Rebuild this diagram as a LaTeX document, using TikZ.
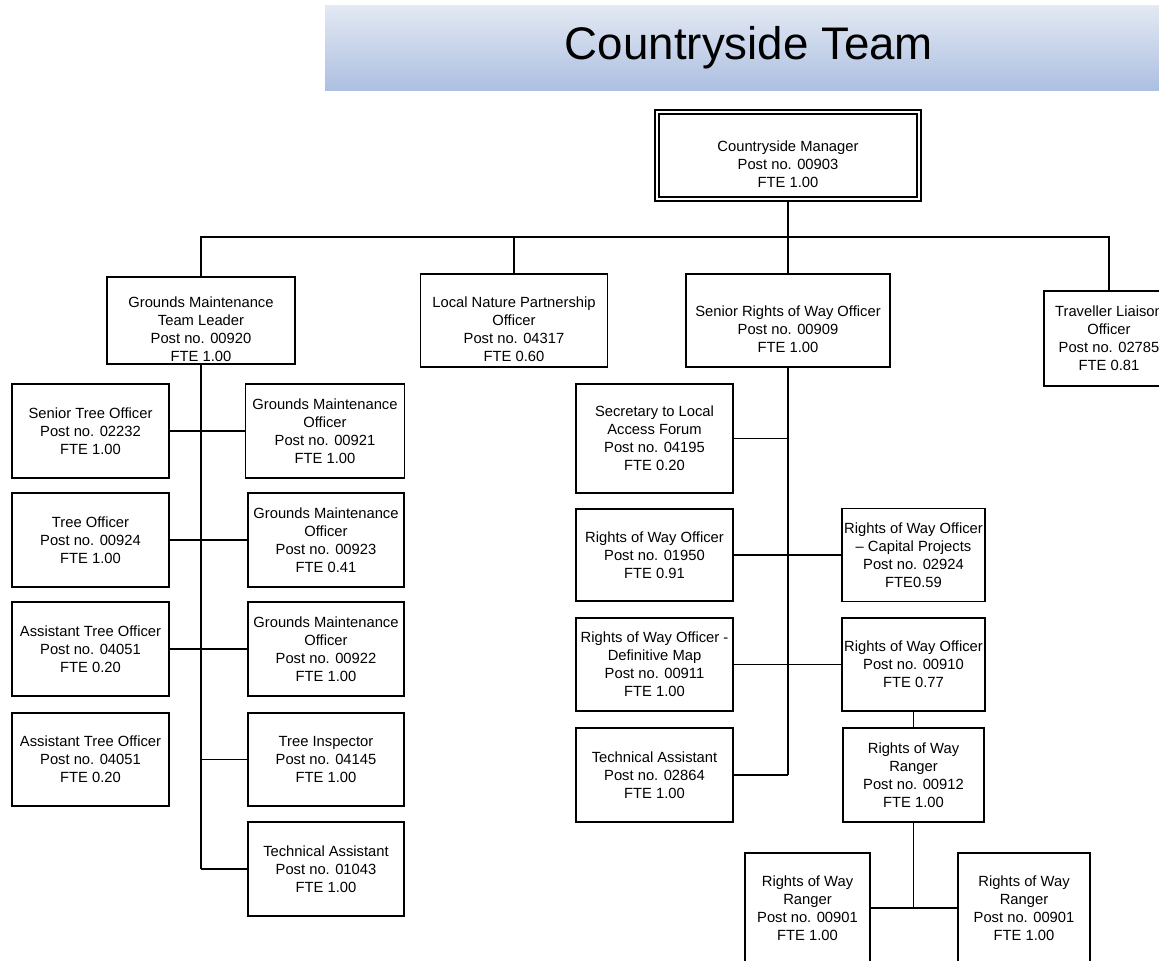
\documentclass[tikz,border=0pt]{standalone}
\usepackage{fontspec}
\setmainfont{Liberation Sans}
\definecolor{titletop}{RGB}{228,233,243}
\definecolor{titlebot}{RGB}{171,191,225}

\begin{document}
\begin{tikzpicture}
	[x=0.02cm, y=-0.02cm,
	postbox/.style={draw, line width=0.85pt, align=center, inner sep=0pt,
		minimum width=3.14cm, minimum height=1.88cm, font=\fontsize{8.4}{10.2}\selectfont},
	lowtxt/.style={align=center, yshift=-1.8mm, font=\fontsize{8.4}{10.2}\selectfont},
	link/.style={line width=0.75pt}]
	\fill[white] (0,0) rectangle (1159,960);
	\useasboundingbox (0,0) rectangle (1159,960);
	\clip (0,0) rectangle (1159,960);

	% heading
	\node[minimum width=16.96cm, minimum height=1.72cm, top color=titletop, bottom color=titlebot,
		font=\fontsize{26}{30}\selectfont] (title) at (749,48) {Countryside Team};

	% top of the tree
	\node[postbox, double, double distance=1.6pt, line width=0.7pt, minimum width=5.24cm, minimum height=1.74cm,
		label={[lowtxt]center:{Countryside Manager\\Post no. 00903\\FTE 1.00}}] (csm) at (788,155.5) {};
	\coordinate (bus) at (788,237);
	\node[postbox, minimum width=3.76cm, minimum height=1.74cm,
		label={[lowtxt]center:{Grounds Maintenance\\Team Leader\\Post no. 00920\\FTE 1.00}}] (gmtl) at (201,320.5) {};
	\node[postbox, minimum width=3.74cm, minimum height=1.86cm,
		label={[lowtxt]center:{Local Nature Partnership\\Officer\\Post no. 04317\\FTE 0.60}}] (lnp) at (514,320.5) {};
	\node[postbox, minimum width=4.08cm, minimum height=1.86cm,
		label={[lowtxt]center:{Senior Rights of Way Officer\\Post no. 00909\\FTE 1.00}}] (srow) at (788,320.5) {};
	\node[postbox, minimum width=2.6cm, minimum height=1.9cm] (tlo) at (1109,338.5)
		{Traveller Liaison\\Officer\\Post no. 02785\\FTE 0.81};

	% grounds maintenance
	\node[postbox] (sto) at (90.5,431) {Senior Tree Officer\\Post no. 02232\\FTE 1.00};
	\node[postbox, minimum width=3.18cm] (gmo1) at (325,431) {Grounds Maintenance\\Officer\\Post no. 00921\\FTE 1.00};
	\node[postbox] (tro) at (90.5,540) {Tree Officer\\Post no. 00924\\FTE 1.00};
	\node[postbox, minimum width=3.12cm] (gmo2) at (326,540) {Grounds Maintenance\\Officer\\Post no. 00923\\FTE 0.41};
	\node[postbox] (ato1) at (90.5,649) {Assistant Tree Officer\\Post no. 04051\\FTE 0.20};
	\node[postbox, minimum width=3.12cm] (gmo3) at (326,649) {Grounds Maintenance\\Officer\\Post no. 00922\\FTE 1.00};
	\node[postbox, minimum height=1.86cm] (ato2) at (90.5,759.5) {Assistant Tree Officer\\Post no. 04051\\FTE 0.20};
	\node[postbox, minimum width=3.12cm, minimum height=1.86cm] (ti) at (326,759.5) {Tree Inspector\\Post no. 04145\\FTE 1.00};
	\node[postbox, minimum width=3.12cm] (ta1) at (326,869) {Technical Assistant\\Post no. 01043\\FTE 1.00};

	% rights of way
	\node[postbox, minimum height=2.18cm] (sec) at (654.5,438.5) {Secretary to Local\\Access Forum\\Post no. 04195\\FTE 0.20};
	\node[postbox, minimum height=1.84cm] (row1) at (654.5,555) {Rights of Way Officer\\Post no. 01950\\FTE 0.91};
	\node[postbox, minimum width=2.86cm, minimum height=1.86cm] (rowcp) at (913.5,555) {Rights of Way Officer\\-- Capital Projects\\Post no. 02924\\FTE0.59};
	\node[postbox, minimum height=1.86cm] (rowdm) at (654.5,664.5) {Rights of Way Officer -\\Definitive Map\\Post no. 00911\\FTE 1.00};
	\node[postbox, minimum width=2.86cm, minimum height=1.86cm] (row2) at (913.5,664.5) {Rights of Way Officer\\Post no. 00910\\FTE 0.77};
	\node[postbox] (ta2) at (654.5,775) {Technical Assistant\\Post no. 02864\\FTE 1.00};
	\node[postbox, minimum width=2.82cm] (rng) at (913.5,775) {Rights of Way\\Ranger\\Post no. 00912\\FTE 1.00};
	\node[postbox, minimum width=2.5cm, minimum height=2.2cm] (rngl) at (807.5,908) {Rights of Way\\Ranger\\Post no. 00901\\FTE 1.00};
	\node[postbox, minimum width=2.64cm, minimum height=2.2cm] (rngr) at (1024,908) {Rights of Way\\Ranger\\Post no. 00901\\FTE 1.00};

	% lines
	\draw[link] (csm) -- (bus);
	\draw[link] (gmtl.north) |- (bus) -| (tlo.north);
	\draw[link] (lnp) -- (lnp |- bus);
	\draw[link] (srow) -- (bus);
	\draw[link] (gmtl.south) -- (gmtl.south |- ta1.west);
	\draw[link] (sto) -- (gmo1);
	\draw[link] (tro) -- (gmo2);
	\draw[link] (ato1) -- (gmo3);
	\draw[link] (ti.west) -- (ti.west -| gmtl.south);
	\draw[link] (ta1.west) -- (ta1.west -| gmtl.south);
	\draw[link] (srow.south) -- (srow.south |- ta2.east);
	\draw[link] (sec.east) -- (sec.east -| srow.south);
	\draw[link] (row1) -- (rowcp);
	\draw[link] (rowdm) -- (row2);
	\draw[link] (ta2.east) -- (ta2.east -| srow.south);
	\draw[link] (row2) -- (rng);
	\draw[link] (rng.south) -- (rng.south |- rngl.east);
	\draw[link] (rngl) -- (rngr);
\end{tikzpicture}
\end{document}
